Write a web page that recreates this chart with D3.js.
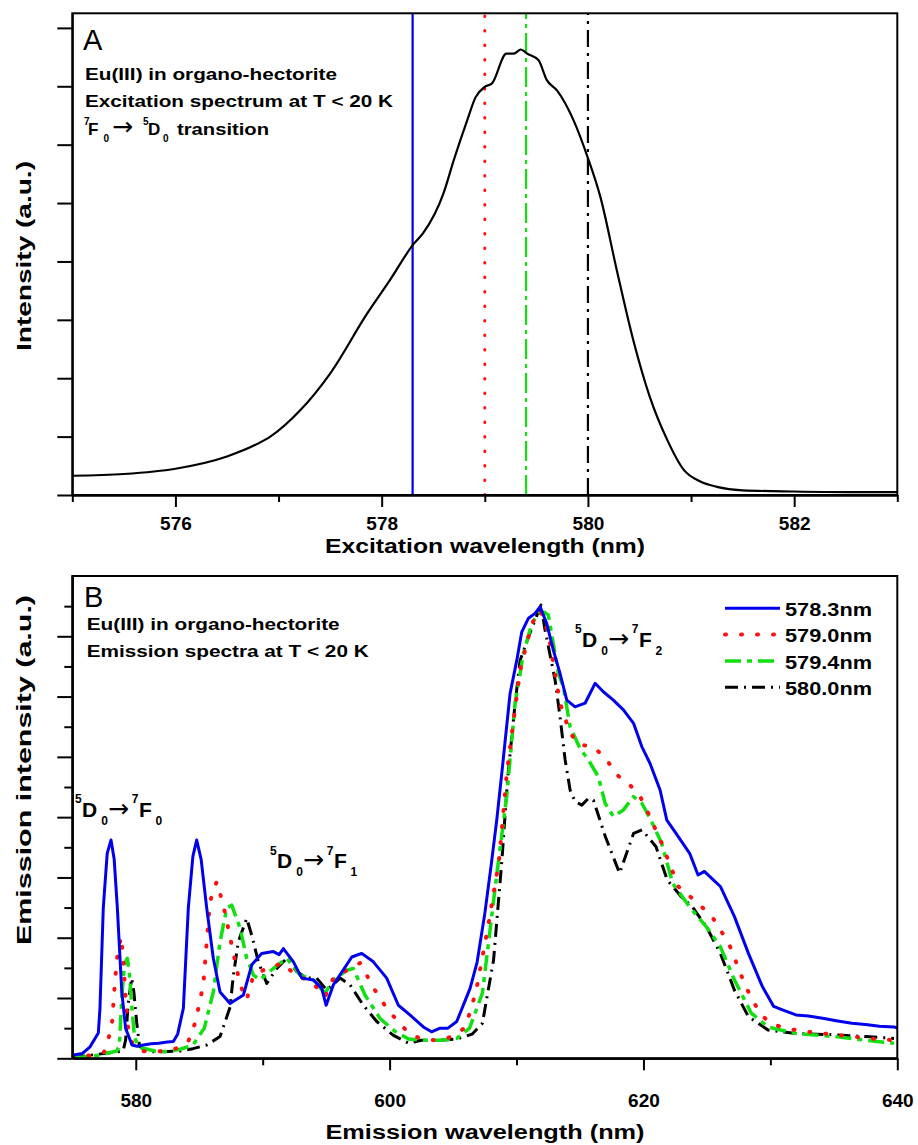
<!DOCTYPE html>
<html>
  <head>
    <title>Eu(III) spectra</title>
    <script src="https://d3js.org/d3.v7.min.js"></script>
    <style>
      body { margin: 0; background: #fff; }
      text { font-family: "Liberation Sans", Arial, sans-serif; }
    </style>
  </head>
  <body>
  </body>
</html>

<script>
  // ---- data ----
  // panel A: excitation spectrum (nm, intensity a.u.)
  var excitation = [
    [575.0,0.33],[575.5,0.36],[576.0,0.45],[576.5,0.66],[576.8,0.88],[576.92,1.0],
    [577.21,1.45],[577.5,2.08],[577.86,3.11],[578.08,3.68],[578.31,4.30],[578.4,4.48],
    [578.6,5.17],[578.7,5.74],[578.83,6.42],[578.91,6.81],[579.0,6.99],[579.07,7.05],
    [579.21,7.56],[579.28,7.56],[579.35,7.63],[579.41,7.56],[579.52,7.45],[579.6,7.11],
    [579.7,6.93],[579.86,6.42],[580.0,5.77],[580.12,5.11],[580.28,3.85],[580.44,2.65],
    [580.6,1.68],[580.77,0.94],[580.93,0.43],[581.09,0.23],[581.25,0.14],[581.5,0.08],
    [582.0,0.06],[582.5,0.05],[583.0,0.05]
  ];
  var excTicks = [576, 578, 580, 582];
  var excMinor = [575, 577, 579, 581, 583];

  // excitation wavelengths used for the emission spectra
  var series = ["578.3nm", "579.0nm", "579.4nm", "580.0nm"];
  var laserLines = [578.3, 579.0, 579.4, 580.0];

  // panel B: emission spectra (nm, intensity a.u.)
  var em5783 = [
    [575.0,0.05],[575.8,0.08],[576.4,0.19],[577.05,0.42],[577.18,0.83],[577.44,2.49],
    [577.75,3.4],[578.05,3.62],[578.3,3.3],[578.55,2.49],[578.9,1.1],[579.2,0.5],
    [579.7,0.22],[580.1,0.2],[580.6,0.22],[581.2,0.24],[581.8,0.25],[582.5,0.27],
    [582.96,0.28],[583.3,0.4],[583.75,0.83],[584.14,2.49],[584.5,3.35],[584.8,3.62],
    [585.15,3.3],[585.59,2.49],[586.11,1.66],[586.64,1.1],[587.43,0.91],[588.48,1.05],
    [589.14,1.55],[589.92,1.74],[590.84,1.77],[591.3,1.72],[591.63,1.82],[592.42,1.6],
    [593.08,1.33],[593.99,1.3],[594.65,1.16],[595.0,0.88],[595.57,1.22],[596.3,1.45],
    [597.02,1.68],[597.8,1.74],[598.72,1.6],[599.77,1.33],[600.69,0.88],[601.6,0.72],
    [602.66,0.52],[603.3,0.44],[603.98,0.5],[604.6,0.5],[605.29,0.61],[606.34,1.16],
    [606.9,1.6],[607.5,2.4],[608.0,3.2],[608.44,3.95],[608.84,4.73],[609.49,6.05],
    [610.02,6.6],[610.41,7.07],[610.94,7.3],[611.46,7.38],[611.86,7.49],[612.38,7.21],
    [612.9,6.77],[613.43,6.38],[613.96,5.94],[614.61,5.83],[615.4,5.89],[616.19,6.22],
    [616.84,6.08],[617.63,5.94],[618.42,5.78],[619.21,5.56],[619.87,5.17],[620.52,4.89],
    [621.31,4.45],[621.84,3.95],[622.5,3.75],[623.64,3.4],[624.3,3.04],[624.8,3.1],
    [625.4,2.98],[626.06,2.85],[627.17,2.35],[628.27,1.74],[629.37,1.19],[630.26,0.86],
    [631.0,0.8],[632.02,0.72],[633.0,0.7],[634.23,0.66],[635.3,0.62],[636.43,0.58],
    [637.5,0.56],[638.6,0.53],[639.74,0.52],[640.0,0.5]
  ];
  var em5790 = [
    [575.0,0.02],[576.5,0.05],[577.5,0.1],[578.1,0.5],[578.37,1.3],[578.55,1.7],
    [578.84,2.02],[579.0,1.7],[579.15,1.16],[579.4,0.5],[579.8,0.2],[580.5,0.12],
    [581.5,0.11],[582.5,0.13],[583.3,0.17],[584.14,0.28],[584.7,0.6],[585.32,1.22],
    [585.59,1.93],[585.85,2.6],[586.38,2.93],[586.9,2.54],[587.56,1.88],[588.22,1.22],
    [588.74,0.97],[589.27,1.38],[590.32,1.49],[591.63,1.58],[592.68,1.35],[593.73,1.3],
    [594.91,1.02],[595.57,1.33],[596.88,1.49],[597.67,1.58],[598.85,1.13],[599.77,0.83],
    [600.7,0.6],[601.5,0.42],[602.5,0.32],[603.5,0.3],[604.5,0.33],[605.3,0.4],
    [605.98,0.52],[606.8,1.1],[607.75,2.18],[608.63,3.29],[609.23,4.73],[610.28,6.44],
    [611.2,7.21],[611.86,7.43],[612.51,7.05],[612.9,6.55],[613.43,5.89],[614.22,5.39],
    [615.0,5.2],[616.06,5.17],[617.11,4.95],[617.9,4.7],[618.82,4.56],[619.74,4.34],
    [620.39,4.06],[621.43,3.57],[622.75,2.85],[624.3,2.57],[625.4,2.35],[626.72,1.91],
    [628.05,1.19],[629.15,0.75],[630.0,0.58],[631.14,0.5],[632.5,0.45],[634.23,0.41],
    [636.0,0.37],[637.76,0.33],[639.74,0.3]
  ];
  var em5794 = [
    [575.0,0.0],[577.0,0.05],[578.5,0.12],[578.7,0.2],[578.9,1.0],[579.1,1.55],
    [579.34,1.66],[579.5,1.4],[579.68,0.88],[579.9,0.35],[580.2,0.2],[580.5,0.17],
    [581.5,0.12],[582.5,0.11],[583.5,0.15],[584.5,0.22],[585.4,0.5],[586.11,1.1],
    [586.64,1.93],[587.17,2.49],[587.56,2.54],[588.22,2.16],[588.74,1.66],[589.27,1.38],
    [589.79,1.3],[590.84,1.49],[591.9,1.66],[592.95,1.38],[594.0,1.3],[594.91,1.08],
    [595.57,1.3],[596.62,1.46],[597.14,1.49],[598.06,1.05],[599.25,0.66],[600.4,0.45],
    [601.5,0.32],[602.5,0.3],[604.0,0.3],[605.3,0.33],[606.3,0.5],[607.31,1.08],
    [608.42,3.01],[609.23,4.35],[609.89,5.89],[610.55,6.72],[611.2,7.21],[611.73,7.38],
    [612.2,7.4],[612.51,7.35],[612.9,6.88],[613.3,6.38],[613.69,6.16],[614.22,5.5],
    [615.0,5.14],[615.66,4.95],[616.45,4.67],[616.98,4.23],[617.63,4.01],[618.42,4.12],
    [619.21,4.34],[619.87,4.23],[620.52,3.98],[621.43,3.57],[622.31,2.9],[623.64,2.51],
    [624.96,2.18],[626.06,1.85],[627.17,1.3],[628.49,0.75],[629.81,0.52],[632.02,0.41],
    [635.11,0.36],[637.5,0.3],[639.74,0.25]
  ];
  var em5800 = [
    [575.0,0.0],[576.0,0.04],[577.5,0.08],[579.0,0.12],[579.2,0.3],[579.4,0.9],
    [579.68,1.33],[579.85,1.1],[580.07,0.6],[580.3,0.2],[580.86,0.11],[582.0,0.11],
    [583.5,0.12],[584.5,0.16],[585.59,0.22],[586.64,0.36],[587.03,0.6],[587.43,0.85],
    [587.69,1.38],[588.08,1.93],[588.74,2.32],[589.14,2.04],[589.66,1.6],[590.32,1.24],
    [591.11,1.49],[591.9,1.66],[592.68,1.44],[593.47,1.33],[594.26,1.33],[595.05,1.13],
    [596.1,1.33],[596.88,1.22],[597.93,0.88],[598.99,0.61],[600.3,0.38],[601.5,0.25],
    [602.5,0.3],[604.0,0.3],[605.3,0.32],[606.5,0.4],[607.31,0.58],[608.19,1.63],
    [608.85,3.29],[609.29,4.62],[609.89,5.89],[610.28,6.6],[610.94,6.99],[611.46,7.27],
    [611.93,7.52],[612.25,7.1],[612.51,6.83],[613.04,6.27],[613.43,5.66],[613.83,4.95],
    [614.22,4.45],[614.61,4.26],[615.14,4.2],[615.66,4.31],[616.06,4.28],[617.01,3.67],
    [618.12,3.07],[619.22,3.73],[619.89,3.79],[620.99,3.51],[621.87,2.96],[622.98,2.68],
    [623.86,2.51],[624.96,2.18],[626.06,1.74],[627.17,1.13],[628.27,0.69],[629.81,0.47],
    [632.02,0.41],[635.11,0.39],[637.5,0.36],[639.74,0.33]
  ];
  var emTicks = [580, 600, 620, 640];
  var emMinor = [590, 610, 630];

  // ---- styles ----
  var colors = ["#0000ee", "#ff1010", "#10e010", "#000000"];
  var dashes = ["none", "1 15", "16 6 5 6", "13 6 2 6"];
  var widths = [3, 4, 3.5, 3];
  var caps = ["butt", "round", "butt", "butt"];
  var vDashes = ["none", "0.5 14", "20 5 4 5", "17 6 3 6"];

  var svg = d3.select("body").append("svg")
              .attr("width", 918)
              .attr("height", 1145);

  var left = 72.3, right = 897.3;

  // ================= panel A =================
  var xA = d3.scaleLinear().domain([575, 583]).range([left, right]);
  var yA = d3.scaleLinear().domain([0, 8.25]).range([495, 13.3]);

  svg.append("clipPath").attr("id", "clipA")
     .append("rect").attr("x", left).attr("y", 13.3)
     .attr("width", right - left).attr("height", 495 - 13.3);

  var gA = svg.append("g");

  // excitation wavelengths as vertical lines
  gA.selectAll("line.laser")
    .data(laserLines)
    .enter()
    .append("line")
    .attr("class", "laser")
    .attr("x1", function (d) { return xA(d); })
    .attr("x2", function (d) { return xA(d); })
    .attr("y1", yA(0))
    .attr("y2", yA(8.25))
    .attr("stroke", function (d, i) { return colors[i]; })
    .attr("stroke-width", function (d, i) { return i == 1 ? 3 : 2.2; })
    .attr("stroke-linecap", function (d, i) { return caps[i]; })
    .attr("stroke-dasharray", function (d, i) { return vDashes[i]; });

  gA.append("path")
    .datum(excitation)
    .attr("clip-path", "url(#clipA)")
    .attr("fill", "none")
    .attr("stroke", "black")
    .attr("stroke-width", 2.2)
    .attr("d", d3.line()
                 .x(function (d) { return xA(d[0]); })
                 .y(function (d) { return yA(d[1]); })
                 .curve(d3.curveMonotoneX));

  // frame
  gA.append("rect")
    .attr("x", left).attr("y", 13.3)
    .attr("width", right - left).attr("height", 495 - 13.3)
    .attr("fill", "none").attr("stroke", "black").attr("stroke-width", 2);

  function styleAxis(g) {
    g.selectAll("path").attr("stroke", "black").attr("stroke-width", 2);
    g.selectAll("line").attr("stroke", "black").attr("stroke-width", 2);
    g.selectAll("text")
     .attr("font-family", "Liberation Sans, Arial, sans-serif")
     .attr("font-weight", "bold").attr("font-size", 19).attr("fill", "black");
  }

  gA.append("g").attr("transform", "translate(0,495)")
    .call(d3.axisBottom(xA).tickValues(excTicks).tickSize(12).tickSizeOuter(0)
            .tickPadding(10).tickFormat(d3.format("d")))
    .call(styleAxis);
  gA.append("g").attr("transform", "translate(0,495)")
    .call(d3.axisBottom(xA).tickValues(excMinor).tickSize(7).tickSizeOuter(0).tickFormat(""))
    .call(styleAxis);
  gA.append("g").attr("transform", "translate(" + left + ",0)")
    .call(d3.axisLeft(yA).tickValues(d3.range(0, 9)).tickSize(15).tickSizeOuter(0).tickFormat(""))
    .call(styleAxis);

  // ================= panel B =================
  var xB = d3.scaleLinear().domain([575, 640]).range([left, right]);
  var yB = d3.scaleLinear().domain([0, 8]).range([1058.3, 576]);

  svg.append("clipPath").attr("id", "clipB")
     .append("rect").attr("x", left).attr("y", 576)
     .attr("width", right - left).attr("height", 1058.3 - 576);

  var gB = svg.append("g");
  var lineB = d3.line()
                .x(function (d) { return xB(d[0]); })
                .y(function (d) { return yB(d[1]); });

  var emission = [em5800, em5794, em5790, em5783];
  gB.selectAll("path.em")
    .data(emission)
    .enter()
    .append("path")
    .attr("class", "em")
    .attr("clip-path", "url(#clipB)")
    .attr("fill", "none")
    .attr("stroke", function (d, i) { return colors[3 - i]; })
    .attr("stroke-width", function (d, i) { return widths[3 - i]; })
    .attr("stroke-linecap", function (d, i) { return caps[3 - i]; })
    .attr("stroke-linejoin", "round")
    .attr("stroke-dasharray", function (d, i) { return dashes[3 - i]; })
    .attr("d", lineB);

  gB.append("rect")
    .attr("x", left).attr("y", 576)
    .attr("width", right - left).attr("height", 1058.3 - 576)
    .attr("fill", "none").attr("stroke", "black").attr("stroke-width", 2);

  gB.append("g").attr("transform", "translate(0,1058.3)")
    .call(d3.axisBottom(xB).tickValues(emTicks).tickSize(12).tickSizeOuter(0)
            .tickPadding(23).tickFormat(d3.format("d")))
    .call(styleAxis);
  gB.append("g").attr("transform", "translate(0,1058.3)")
    .call(d3.axisBottom(xB).tickValues(emMinor).tickSize(7).tickSizeOuter(0).tickFormat(""))
    .call(styleAxis);
  gB.append("g").attr("transform", "translate(" + left + ",0)")
    .call(d3.axisLeft(yB).tickValues(d3.range(0, 8)).tickSize(15).tickSizeOuter(0).tickFormat(""))
    .call(styleAxis);
  gB.append("g").attr("transform", "translate(" + left + ",0)")
    .call(d3.axisLeft(yB).tickValues(d3.range(0.5, 8, 1)).tickSize(8).tickSizeOuter(0).tickFormat(""))
    .call(styleAxis);

  // legend
  var legend = gB.selectAll("g.leg")
                 .data(series)
                 .enter()
                 .append("g")
                 .attr("class", "leg")
                 .attr("transform", function (d, i) { return "translate(725," + (608.3 + i * 26.3) + ")"; });
  legend.append("line")
        .attr("x1", 0).attr("x2", 55).attr("y1", 0).attr("y2", 0)
        .attr("stroke", function (d, i) { return colors[i]; })
        .attr("stroke-width", function (d, i) { return widths[i]; })
        .attr("stroke-linecap", function (d, i) { return caps[i]; })
        .attr("stroke-dasharray", function (d, i) { return dashes[i]; });
  legend.append("text")
        .attr("x", 60).attr("y", 7.8)
        .attr("font-size", 18.5).attr("font-weight", "bold")
        .attr("textLength", 87).attr("lengthAdjust", "spacingAndGlyphs")
        .text(function (d) { return d; });

  // ---- text ----
  function label(x, y, size, weight, str, len) {
    var t = svg.append("text").attr("x", x).attr("y", y)
               .attr("font-size", size).attr("font-weight", weight).text(str);
    if (len) t.attr("textLength", len).attr("lengthAdjust", "spacingAndGlyphs");
    return t;
  }

  // term symbols like 5D0 -> 7F2 ; arrows use DejaVu which has a full-width arrow glyph
  function term(x, y, parts) {
    var t = svg.append("text").attr("font-weight", "bold");
    parts.forEach(function (p) {
      var s = t.append("tspan").attr("x", x + p[1]).attr("y", y + p[2])
               .attr("font-size", p[3]).text(p[0]);
      if (p[0] == "\u2192") s.attr("font-family", "DejaVu Sans").attr("font-weight", "normal");
    });
    return t;
  }

  label(83, 50, 29, "normal", "A");
  label(85, 80, 17, "bold", "Eu(III) in organo-hectorite", 252);
  label(85, 107, 17, "bold", "Excitation spectrum at T < 20 K", 308);
  term(84, 135, [["7",0,-10,10],["F",4,0,17],["0",19.5,6.5,10],["\u2192",28,0,25],
                 ["5",59,-10,10],["D",64,0,17],["0",79,6.5,10]]);
  label(177, 135, 17, "bold", "transition", 92);

  label(84, 606.7, 29, "normal", "B");
  label(86.7, 630, 17, "bold", "Eu(III) in organo-hectorite", 253);
  label(86.7, 657, 17, "bold", "Emission spectra at T < 20 K", 282);

  function arrowTerm(lo) {
    return [["5",0,-13.7,12],["D",7,0,21],["0",26.2,8,12],["\u2192",33,0,25],
            ["7",56.7,-13.7,12],["F",64,0,21],[lo,80.5,8,12]];
  }
  term(75, 816.7, arrowTerm("0"));
  term(270, 868.3, arrowTerm("1"));
  term(575, 646.7, arrowTerm("2"));

  // axis titles
  label(485, 553, 20, "bold", "Excitation wavelength (nm)", 320).attr("text-anchor", "middle");
  label(485, 1139, 20, "bold", "Emission wavelength (nm)", 319).attr("text-anchor", "middle");
  label(0, 0, 20, "bold", "Intensity (a.u.)", 190)
    .attr("text-anchor", "middle")
    .attr("transform", "translate(31,256) rotate(-90)");
  label(0, 0, 20, "bold", "Emission intensity (a.u.)", 350)
    .attr("text-anchor", "middle")
    .attr("transform", "translate(31,770) rotate(-90)");
</script>
